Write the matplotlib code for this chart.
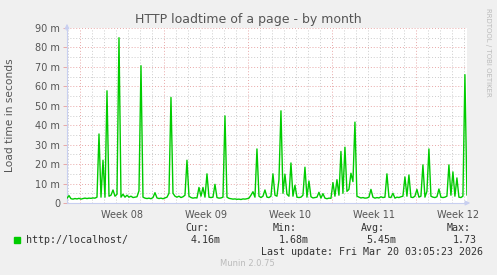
import numpy as np
import matplotlib
matplotlib.use('Agg')
import matplotlib.pyplot as plt

# load time in ms ("m" on axis), one value every 4 hours, oldest first
loadtime = [
    2.5, 3.8, 2.2, 2.0, 2.3, 2.1, 2.4, 2.0, 2.3, 2.5,
    2.3, 2.5, 2.4, 2.6, 2.5, 3.0, 35.5, 3.0, 22.0, 3.0,
    57.7, 3.5, 4.0, 6.7, 3.5, 4.5, 85.0, 3.0, 4.5, 3.0,
    4.0, 3.0, 3.5, 2.8, 3.0, 3.2, 6.3, 70.6, 3.0, 2.5,
    2.3, 2.5, 2.2, 2.8, 5.3, 2.6, 2.3, 2.5, 2.2, 2.6,
    3.0, 5.0, 54.3, 5.0, 3.5, 3.0, 3.5, 2.8, 3.2, 4.0,
    22.0, 3.5, 2.8, 2.5, 2.7, 2.6, 8.0, 3.5, 8.0, 3.0,
    15.0, 3.0, 2.8, 3.0, 9.6, 2.8, 2.5, 2.6, 3.0, 44.8,
    3.0, 2.4, 2.2, 2.0, 2.1, 1.9, 2.0, 1.8, 2.1, 2.0,
    2.2, 2.5, 4.0, 5.8, 3.0, 27.8, 3.5, 2.8, 3.5, 6.7,
    3.0, 2.8, 3.5, 15.0, 4.0, 3.5, 12.0, 47.4, 5.0, 14.8,
    4.5, 3.5, 20.6, 3.5, 9.1, 3.0, 2.8, 3.0, 4.0, 18.4,
    3.0, 11.3, 3.2, 2.6, 2.8, 3.0, 5.5, 2.5, 4.8, 2.5,
    2.2, 2.5, 2.4, 10.5, 3.5, 12.0, 4.0, 26.5, 5.0, 28.7,
    6.0, 7.0, 15.3, 11.0, 41.6, 3.5, 3.0, 2.6, 2.8, 2.5,
    2.6, 3.0, 7.0, 3.0, 2.5, 2.8, 2.6, 3.2, 2.8, 3.0,
    15.0, 3.0, 2.8, 5.0, 2.5, 3.0, 2.8, 3.2, 3.5, 13.4,
    3.5, 14.4, 3.0, 2.8, 3.5, 7.0, 3.0, 3.5, 19.6, 3.0,
    6.0, 27.8, 3.5, 3.0, 2.8, 3.2, 7.2, 3.0, 2.8, 3.0,
    3.5, 19.6, 4.0, 16.0, 3.5, 12.9, 3.0, 2.8, 3.5, 66.0,
    4.16,
]
week_labels = ['Week 08', 'Week 09', 'Week 10', 'Week 11', 'Week 12']
week_starts = [1.1, 8.1, 15.1, 22.1, 29.1]   # days from left edge
y_ticks = [0, 10, 20, 30, 40, 50, 60, 70, 80, 90]
y_ticklabels = ['0', '10 m', '20 m', '30 m', '40 m', '50 m', '60 m', '70 m', '80 m', '90 m']
series_name = 'http://localhost/'
stats = {'Cur:': '4.16m', 'Min:': '1.68m', 'Avg:': '5.45m', 'Max:': '1.73'}

W, H = 497, 275
fig = plt.figure(figsize=(W / 100, H / 100), dpi=100, facecolor='#f0f0f0')
ax = fig.add_axes([67 / W, 1 - 203 / H, 400 / W, 175 / H])
ax.set_facecolor('white')

days = np.arange(len(loadtime)) / 6.0
ax.plot(days, loadtime, color='#00cc00', lw=1.0, zorder=3)

ax.set_xlim(0, 33.34)
ax.set_ylim(0, 90)

major_c = '#e8a8a8'
minor_c = '#cccccc'
for d in np.arange(week_starts[0] - 7, 34, 1.0):
    if d < 0:
        continue
    is_week = any(abs(d - w) < 0.01 for w in week_starts)
    if not is_week:
        ax.axvline(d, color=minor_c, lw=0.7, ls=(0, (1, 2)), zorder=1)
for w in week_starts:
    ax.axvline(w, color=major_c, lw=0.7, ls=(0, (1, 2)), zorder=1)
for v in np.arange(5, 90, 10):
    ax.axhline(v, color=minor_c, lw=0.7, ls=(0, (1, 2)), zorder=1)
for v in y_ticks[1:]:
    ax.axhline(v, color=major_c, lw=0.7, ls=(0, (1, 2)), zorder=1)

for s in ['top', 'right']:
    ax.spines[s].set_visible(False)
for s in ['left', 'bottom']:
    ax.spines[s].set_color('#c8cff0')
    ax.spines[s].set_linewidth(0.8)

ax.annotate('', xy=(0, 1.04), xytext=(0, 0.97), xycoords='axes fraction',
            arrowprops=dict(arrowstyle='-|>', color='#c8cff0', lw=0.8, mutation_scale=7),
            annotation_clip=False)
ax.annotate('', xy=(1.015, 0), xytext=(0.99, 0), xycoords='axes fraction',
            arrowprops=dict(arrowstyle='-|>', color='#c8cff0', lw=0.8, mutation_scale=7),
            annotation_clip=False)

ax.set_yticks(y_ticks)
ax.set_yticklabels(y_ticklabels)
ax.set_xticks([w + 3.5 for w in week_starts])
ax.set_xticklabels(week_labels)
ax.tick_params(axis='x', length=0, pad=5, labelsize=7, labelcolor='#555555')
ax.tick_params(axis='y', length=3, color=major_c, width=0.7, pad=2, labelsize=7,
               labelcolor='#555555')
ax.set_ylabel('Load time in seconds', fontsize=7.7, color='#555555', va='center')
ax.yaxis.set_label_coords(-57 / 400, 0.5)

fig.text(248 / W, 1 - 19 / H, 'HTTP loadtime of a page - by month', fontsize=9,
         color='#555555', ha='center', va='center')
fig.text(488 / W, 1 - 52 / H, 'RRDTOOL / TOBI OETIKER', fontsize=5, color='#bbbbbb',
         rotation=270, ha='center', va='center')

mono = 'DejaVu Sans Mono'
fig.patches.append(plt.Rectangle((14 / W, 1 - 243 / H), 6 / W, 6 / H, color='#00cc00',
                                 transform=fig.transFigure, figure=fig))
fig.text(26 / W, 1 - 240 / H, series_name, family=mono, fontsize=7.2, color='#333333',
         ha='left', va='center')
head_x = [185.7, 272.7, 360.7, 446.7]
val_x = [191, 278.7, 366, 453]
for (k, v), hx, vx in zip(stats.items(), head_x, val_x):
    fig.text(hx / W, 1 - 228 / H, k, family=mono, fontsize=7.2, color='#333333',
             ha='left', va='center')
    fig.text(vx / W, 1 - 240 / H, v, family=mono, fontsize=7.2, color='#333333',
             ha='left', va='center')
fig.text(261.3 / W, 1 - 252 / H, 'Last update: Fri Mar 20 03:05:23 2026', family=mono,
         fontsize=7.2, color='#333333', ha='left', va='center')
fig.text(247.5 / W, 1 - 264 / H, 'Munin 2.0.75', fontsize=6, color='#bbbbbb',
         ha='center', va='center')

fig.savefig('out.png', dpi=100, facecolor=fig.get_facecolor())
